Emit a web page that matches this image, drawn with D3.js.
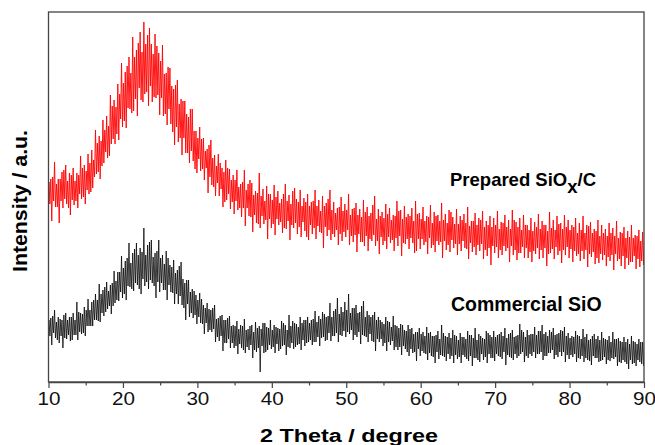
<!DOCTYPE html>
<html>
<head>
<meta charset="utf-8">
<script src="https://cdn.jsdelivr.net/npm/d3@7"></script>
<style>
  body { margin: 0; background: #fff; }
  text { font-family: "Liberation Sans", Arial, sans-serif; }
</style>
</head>
<body>
<div class="chart"></div>
<script>
// 2 theta grid: 10 to 90 degree, one bin every 0.5 degree
var thetaStart = 10;
var thetaStep = 0.5;

// Prepared SiOx/C (red) - level of the noisy trace in each bin, a.u.
var preparedCentre = [
  190,189,190,191,192,192,193,194,196,199,
  202,206,214,222,230,238,246,254,263,272,
  281,288,295,301,306,310,312,312,310,306,
  299,292,285,278,271,264,257,251,245,239,
  233,227,222,217,212,208,204,200,196,193,
  190,187,184,182,180,178,176,175,174,173,
  172,171,171,170,170,169,169,168,168,167,
  167,166,165,164,163,163,162,161,161,160,
  160,159,158,157,156,156,155,155,155,154,
  154,154,154,154,154,154,154,153,153,153,
  152,152,152,151,151,151,150,150,150,150,
  149,149,148,148,147,147,146,146,145,145,
  145,145,145,145,144,144,144,144,144,143,
  143,143,143,142,142,143,144,144,143,143,
  142,142,141,141,140,140,139,139,138,138,
  137,137,136,136,135,135,134,134,133,133,
  132
];
// spikes above / below that level, first and second half of each bin
var preparedUp = [
  22,14,30,12,18,25,16,20,13,27,
  15,22,18,30,16,24,20,33,19,26,
  38,22,30,44,26,40,48,35,28,42,
  30,45,24,36,22,38,26,30,20,34,
  18,28,22,16,30,19,24,14,26,20,
  17,25,14,30,18,21,15,34,19,23,
  16,26,20,13,28,18,22,15,24,17,
  21,14,27,18,23,16,30,19,13,25,
  18,29,15,22,17,26,20,14,31,19,
  16,24,20,13,27,18,22,15,21,28,
  17,23,14,26,19,16,29,18,22,15,
  24,17,20,27,14,22,18,25,16,21,
  19,26,15,22,18,28,16,20,23,14,
  21,17,25,19,15,27,18,22,16,24,
  20,15,23,18,26,17,21,14,24,19,
  16,22,18,25,15,20,17,23,14,19,
  18
];
var preparedDown = [
  20,28,15,32,18,14,26,17,22,16,
  24,18,20,14,27,19,22,16,25,30,
  26,34,22,30,40,28,24,36,30,22,
  32,26,28,20,34,24,30,22,26,18,
  24,16,20,28,15,22,18,25,14,20,
  22,15,19,26,14,28,17,21,16,30,
  18,24,14,21,17,27,15,20,23,16,
  25,18,22,14,29,17,20,16,24,19,
  15,22,18,27,16,20,24,14,19,26,
  17,21,15,23,18,28,16,20,14,22,
  19,15,24,17,21,14,26,18,20,16,
  22,18,14,25,17,20,15,23,19,28,
  16,21,18,14,24,17,22,15,20,19,
  23,15,20,18,26,14,21,17,24,16,
  18,22,15,20,17,25,14,21,19,16,
  21,16,24,15,19,22,17,14,20,18,
  15
];
var preparedUp2 = [
  10,16,8,12,20,9,14,7,11,15,
  9,13,8,17,11,14,10,22,12,16,
  18,28,14,24,33,20,26,42,18,30,
  22,16,30,18,26,14,24,17,28,12,
  11,16,9,20,12,8,15,10,18,9,
  12,8,16,10,22,9,13,11,7,15,
  10,14,8,18,11,9,25,12,8,13,
  9,15,11,7,13,20,10,8,14,11,
  12,8,16,10,9,14,11,22,8,12,
  10,14,8,12,17,9,11,13,8,15,
  11,9,13,8,15,10,12,9,20,8,
  9,13,11,8,14,10,16,9,12,10,
  12,8,14,10,9,18,11,8,13,9,
  8,12,10,15,9,11,8,14,10,12,
  10,13,8,11,9,16,10,12,8,11,
  9,12,10,8,14,9,11,10,13,8,
  10
];
var preparedDown2 = [
  12,8,15,10,9,18,11,13,8,14,
  10,16,9,12,14,8,20,11,15,9,
  20,14,26,18,12,30,22,16,25,19,
  15,24,12,28,16,20,13,22,14,26,
  10,14,8,12,17,9,11,20,8,13,
  9,13,10,8,15,11,18,9,12,10,
  14,8,11,16,9,12,10,13,8,22,
  10,12,9,15,8,11,14,9,13,10,
  8,13,11,9,16,10,12,8,14,9,
  13,9,12,10,8,15,11,9,24,10,
  9,12,8,14,10,11,9,13,8,12,
  11,8,15,9,12,10,8,14,11,9,
  10,13,9,11,8,12,15,9,10,13,
  12,9,11,8,14,10,9,13,11,8,
  9,11,13,10,8,12,9,15,10,11,
  12,10,8,13,9,11,14,8,10,12,
  9
];

// Commercial SiO (black)
var commercialCentre = [
  55,55,54,54,54,54,55,56,58,60,
  63,66,70,74,78,81,84,88,92,97,
  102,106,109,111,113,114,115,115,114,112,
  110,108,106,103,100,96,92,87,82,78,
  74,71,67,63,60,57,55,53,51,49,
  47,46,45,44,44,44,44,45,45,45,
  45,45,45,46,46,47,48,48,49,50,
  51,52,53,54,55,56,57,58,59,59,
  60,60,60,59,58,57,56,54,53,52,
  50,49,48,47,45,44,43,42,41,40,
  39,39,38,38,37,37,37,36,36,36,
  35,35,35,35,35,35,35,35,36,36,
  37,37,37,37,37,37,37,38,38,38,
  38,39,39,39,39,39,39,39,38,38,
  37,36,36,35,35,35,34,34,34,34,
  33,33,33,32,32,31,31,30,30,30,
  29
];
var commercialUp = [
  14,9,18,11,8,15,10,13,22,9,
  12,17,10,14,20,11,16,9,19,13,
  24,15,30,18,26,20,39,22,28,17,
  32,19,25,14,22,16,28,12,20,15,
  13,18,10,16,12,20,9,14,11,17,
  10,15,12,19,9,13,16,11,14,10,
  17,12,9,15,11,20,13,10,16,12,
  14,10,18,12,15,9,22,13,25,16,
  20,28,14,18,12,24,15,11,17,13,
  10,16,12,19,11,14,9,15,13,10,
  15,11,17,12,9,14,20,10,13,16,
  11,14,10,16,12,19,13,9,15,11,
  14,10,13,17,11,15,9,20,12,14,
  10,16,12,18,11,13,15,9,14,17,
  12,10,15,11,18,13,9,14,12,16,
  10,13,17,11,9,14,12,16,10,13,
  11
];
var commercialDown = [
  13,18,10,15,20,11,14,9,16,12,
  17,10,14,12,18,15,11,20,13,16,
  18,24,14,20,16,26,19,22,15,28,
  20,16,24,13,22,18,15,25,17,14,
  16,12,19,13,10,17,14,22,12,15,
  13,18,11,15,12,20,14,35,16,13,
  12,16,14,10,19,13,15,11,17,14,
  11,15,13,18,10,14,16,12,19,13,
  15,12,18,14,20,11,16,13,22,12,
  14,18,11,15,13,17,10,16,12,19,
  13,10,16,12,18,14,11,15,13,17,
  12,16,10,14,19,11,15,13,17,12,
  16,11,14,20,12,15,13,10,18,14,
  12,15,11,17,13,10,16,14,12,18,
  14,11,16,12,15,13,17,10,14,12,
  15,12,10,16,13,11,18,12,14,10,
  13
];
var commercialUp2 = [
  7,11,6,9,13,8,10,6,12,8,
  9,6,12,8,10,14,7,11,9,13,
  12,18,10,22,14,16,12,25,11,19,
  14,10,18,12,9,20,11,15,8,13,
  8,12,7,10,14,6,11,9,13,7,
  9,7,11,8,12,6,10,8,14,9,
  7,10,8,13,6,9,11,7,10,12,
  8,11,7,9,13,10,8,15,9,11,
  12,9,14,10,18,8,11,13,9,10,
  8,12,7,10,9,13,8,11,7,10,
  9,7,11,8,10,6,12,9,8,11,
  7,10,8,12,9,7,11,8,13,9,
  8,11,9,7,12,8,10,14,7,9,
  10,8,12,9,7,11,8,10,13,8,
  7,9,11,8,10,7,12,9,8,10,
  9,7,10,12,8,9,7,11,8,10,
  8
];
var commercialDown2 = [
  9,6,12,8,10,7,13,9,8,11,
  7,10,8,13,9,11,8,12,10,7,
  14,10,16,12,20,11,15,13,18,12,
  11,16,9,14,12,10,18,9,13,11,
  9,13,8,11,7,12,9,14,8,10,
  11,8,13,9,7,12,10,9,15,8,
  10,7,12,9,11,8,13,10,7,11,
  9,12,8,10,14,7,11,9,12,8,
  10,8,13,9,11,12,8,14,10,9,
  11,9,7,12,10,8,13,9,11,7,
  8,11,9,13,7,10,12,8,10,9,
  10,8,12,9,11,13,7,10,8,12,
  9,12,7,10,13,9,11,8,12,10,
  8,11,9,13,10,7,12,9,8,11,
  10,8,12,9,11,14,8,10,13,9,
  11,9,8,12,10,13,9,11,8,12,
  9
];

var xTicks = [10, 20, 30, 40, 50, 60, 70, 80, 90];
var xMinorTicks = [15, 25, 35, 45, 55, 65, 75, 85];

var svgWidth = 655;
var svgHeight = 445;

var margin = { top: 12, right: 11, bottom: 63, left: 48.5 };
var width = svgWidth - margin.left - margin.right;
var height = svgHeight - margin.top - margin.bottom;

var svg = d3.select(".chart")
  .append("svg")
  .attr("width", svgWidth)
  .attr("height", svgHeight);

var chartGroup = svg.append("g")
  .attr("transform", `translate(${margin.left}, ${margin.top})`);

// scales
var xScale = d3.scaleLinear()
  .domain([10, 90])
  .range([0, width]);

var yScale = d3.scaleLinear()
  .domain([0, 370])
  .range([height, 0]);

// keep the traces inside the frame
svg.append("defs").append("clipPath")
  .attr("id", "plot-clip")
  .append("rect")
  .attr("width", width)
  .attr("height", height);

// every bin gives max, min, max, min across its width
function binPoints(centre, up, down, up2, down2) {
  var pts = [];
  var q = thetaStep / 8;
  centre.forEach(function(c, i) {
    var t = thetaStart + i * thetaStep;
    pts.push([t - 3 * q, c + up[i]]);
    pts.push([t - q, c - down[i]]);
    pts.push([t + q, c + up2[i]]);
    pts.push([t + 3 * q, c - down2[i]]);
  });
  return pts;
}

var line = d3.line()
  .x(d => xScale(d[0]))
  .y(d => yScale(d[1]));

var traces = chartGroup.append("g")
  .attr("clip-path", "url(#plot-clip)");

traces.append("path")
  .attr("d", line(binPoints(commercialCentre, commercialUp, commercialDown, commercialUp2, commercialDown2)))
  .attr("fill", "none")
  .attr("stroke", "#000")
  .attr("stroke-width", 0.85)
  .attr("stroke-opacity", 0.9);

traces.append("path")
  .attr("d", line(binPoints(preparedCentre, preparedUp, preparedDown, preparedUp2, preparedDown2)))
  .attr("fill", "none")
  .attr("stroke", "#ff0000")
  .attr("stroke-width", 0.9)
  .attr("stroke-opacity", 1);

// frame
chartGroup.append("rect")
  .attr("width", width)
  .attr("height", height)
  .attr("fill", "none")
  .attr("stroke", "#444")
  .attr("stroke-width", 1.3);

// x axis, major ticks with labels and unlabeled minor ticks
var bottomAxis = d3.axisBottom(xScale)
  .tickValues(xTicks)
  .tickSize(6)
  .tickSizeOuter(0)
  .tickPadding(5);

var xAxis = chartGroup.append("g")
  .attr("transform", `translate(0, ${height})`)
  .call(bottomAxis);

xAxis.select(".domain").attr("stroke", "#444").attr("stroke-width", 1.6);
xAxis.selectAll(".tick line").attr("stroke", "#444").attr("stroke-width", 1.2);
xAxis.selectAll(".tick text")
  .attr("font-size", "17.5px")
  .attr("fill", "#111")
  .attr("transform", "scale(1.18,1)");

chartGroup.append("g")
  .attr("transform", `translate(0, ${height})`)
  .call(d3.axisBottom(xScale).tickValues(xMinorTicks).tickSize(3.5).tickFormat(""))
  .call(g => g.select(".domain").remove())
  .selectAll(".tick line")
  .attr("stroke", "#444")
  .attr("stroke-width", 1.2);

// axis titles
svg.append("text")
  .attr("x", 349)
  .attr("y", 442)
  .attr("text-anchor", "middle")
  .attr("font-size", "18px")
  .attr("font-weight", "bold")
  .attr("textLength", 178)
  .attr("lengthAdjust", "spacingAndGlyphs")
  .text("2 Theta / degree");

svg.append("text")
  .attr("transform", "translate(27, 201) rotate(-90)")
  .attr("text-anchor", "middle")
  .attr("font-size", "19.5px")
  .attr("font-weight", "bold")
  .attr("textLength", 142)
  .attr("lengthAdjust", "spacingAndGlyphs")
  .text("Intensity / a.u.");

// series labels
var prepLabel = svg.append("text")
  .attr("x", 450)
  .attr("y", 185.5)
  .attr("font-size", "18.5px")
  .attr("font-weight", "bold");
prepLabel.append("tspan").text("Prepared SiO");
prepLabel.append("tspan").attr("dy", 7).text("x");
prepLabel.append("tspan").attr("dy", -7).text("/C");

svg.append("text")
  .attr("x", 451)
  .attr("y", 310.5)
  .attr("font-size", "19.5px")
  .attr("font-weight", "bold")
  .text("Commercial SiO");
</script>
</body>
</html>
